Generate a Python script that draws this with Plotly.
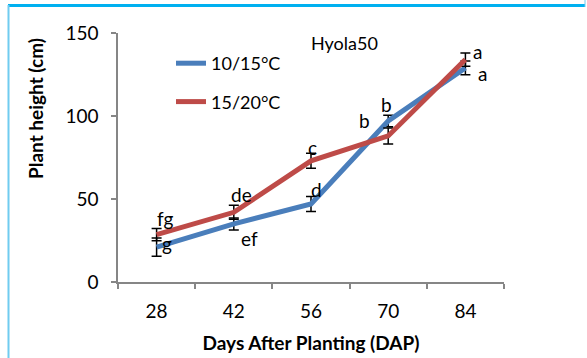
import plotly.graph_objects as go

# ---- data ----
days = ["28", "42", "56", "70", "84"]
height_10_15 = [21, 35, 47, 97, 129]
err_10_15 = [5.5, 3.6, 4.5, 3.5, 4.2]
height_15_20 = [28.5, 42, 73, 88, 134]
err_15_20 = [3.7, 4.2, 4.5, 4.8, 4.0]
letters_10_15 = ["g", "ef", "d", "b", "a"]
letters_15_20 = ["fg", "de", "c", "b", "a"]
y_ticks = [0, 50, 100, 150]

# ---- layout constants (pixels) ----
W, H = 587, 358
ML, MR, MT, MB = 118, 83, 33, 76
PW, PH = W - ML - MR, H - MT - MB
FONT = "Lato"
BLUE = "#4A7EBB"
RED = "#BE4B48"
AX = "#868686"


def px(x):
    return (x - ML) / PW


def py(y):
    return (H - MB - y) / PH


fig = go.Figure()
fig.add_trace(go.Scatter(
    x=days, y=height_10_15, name="10/15°C", mode="lines",
    line=dict(color=BLUE, width=5), legendgroup="a",
    error_y=dict(type="data", array=err_10_15, color="black", thickness=1.5, width=5),
))
fig.add_trace(go.Scatter(
    x=days, y=height_15_20, name="15/20°C", mode="lines",
    line=dict(color=RED, width=5), legendgroup="b",
    error_y=dict(type="data", array=err_15_20, color="black", thickness=1.5, width=5),
))

# letter annotations (pixel offsets from each point)
off_10_15 = [(10, -4), (16, 15), (5, -14), (-2, -16), (17, 6)]
off_15_20 = [(9, -16), (8, -18), (1, -13), (-24, -15), (12, -8)]
anns = []
for ys, labs, offs in [(height_10_15, letters_10_15, off_10_15),
                       (height_15_20, letters_15_20, off_15_20)]:
    for i, (yv, t, (dx, dy)) in enumerate(zip(ys, labs, offs)):
        anns.append(dict(x=i, y=yv, xref="x", yref="y", text=t, showarrow=False,
                         xanchor="center", yanchor="middle",
                         xshift=dx, yshift=-dy, font=dict(family=FONT, size=19, color="black")))

anns.append(dict(x=px(344), y=py(43), xref="paper", yref="paper", text="Hyola50",
                 xanchor="center", yanchor="middle",
                 showarrow=False, font=dict(family=FONT, size=18, color="black")))
anns.append(dict(x=px(35), y=py(109), xref="paper", yref="paper", text="<b>Plant height (cm)</b>",
                 xanchor="center", yanchor="middle",
                 textangle=-90, showarrow=False, font=dict(family=FONT, size=19, color="black")))

shapes = [
    dict(type="line", xref="paper", yref="paper", x0=px(8), x1=px(585), y0=py(5.5), y1=py(5.5),
         line=dict(color="#00B0F0", width=3)),
    dict(type="line", xref="paper", yref="paper", x0=px(8.5), x1=px(8.5), y0=py(5), y1=py(358),
         line=dict(color="#70CCF0", width=2)),
    dict(type="line", xref="paper", yref="paper", x0=px(585), x1=px(585), y0=py(0), y1=py(7),
         line=dict(color="#70CCF0", width=1)),
]

fig.update_layout(
    width=W, height=H,
    margin=dict(l=ML, r=MR, t=MT, b=MB, autoexpand=False),
    paper_bgcolor="white", plot_bgcolor="white",
    font=dict(family=FONT, size=19, color="black"),
    showlegend=True,
    legend=dict(x=px(171), y=py(45), xanchor="left", yanchor="top",
                bgcolor="rgba(0,0,0,0)", traceorder="grouped", tracegroupgap=12,
                font=dict(family=FONT, size=18, color="black")),
    annotations=anns,
    shapes=shapes,
    xaxis=dict(type="category", range=[-0.5, len(days) - 0.5], autorange=False,
               automargin=False,
               showline=True, linecolor=AX, linewidth=1.5,
               ticks="outside", tickson="boundaries", ticklen=5, tickcolor=AX, tickwidth=1.5,
               showgrid=False, zeroline=False, ticklabelstandoff=11, tickangle=0,
               tickfont=dict(family=FONT, size=19),
               title=dict(text="<b>Days After Planting (DAP)</b>", standoff=16,
                          font=dict(family=FONT, size=19))),
    yaxis=dict(range=[0, 150], autorange=False, tickvals=y_ticks, showline=True,
               automargin=False,
               linecolor=AX, linewidth=1.5,
               ticks="outside", ticklen=5, tickcolor=AX, tickwidth=1.5,
               tickfont=dict(family=FONT, size=19),
               showgrid=False, zeroline=False, ticklabelstandoff=9),
)

fig.write_html("out.html")
